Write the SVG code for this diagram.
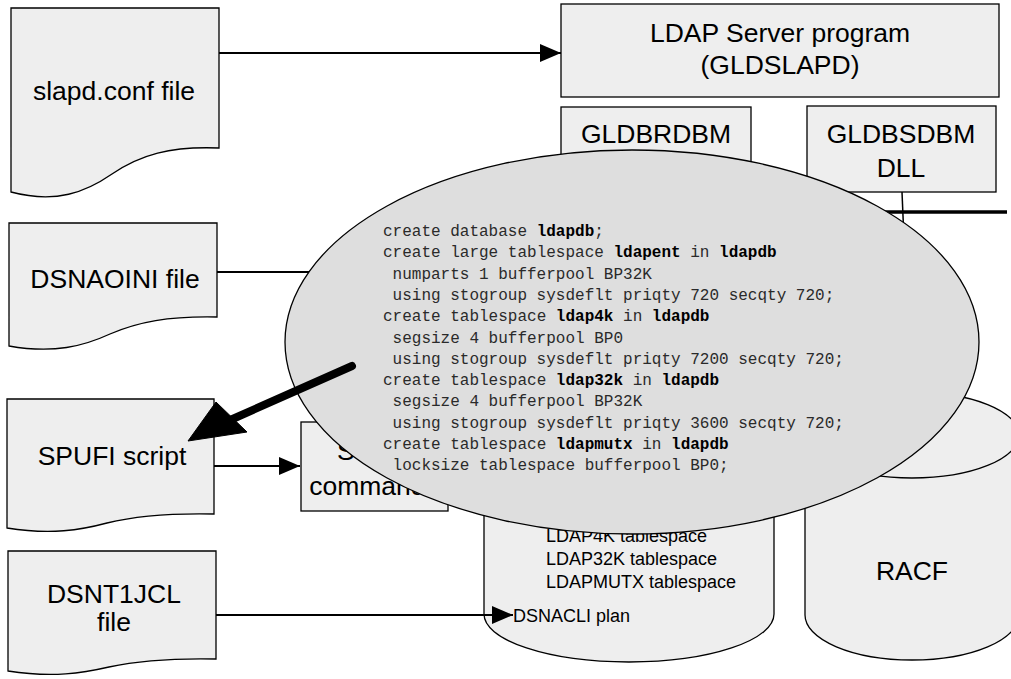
<svg xmlns="http://www.w3.org/2000/svg" width="1011" height="679" viewBox="0 0 1011 679">
  <style>
    .shape { fill: #eeeeee; stroke: #000; stroke-width: 1.3; }
    .label { font-family: "Liberation Sans", Arial, sans-serif; font-size: 26.5px; fill: #000; text-anchor: middle; }
    .small { font-family: "Liberation Sans", Arial, sans-serif; font-size: 18px; fill: #000; }
    .wire { fill: none; stroke: #000; stroke-width: 2; }
    .code { font-family: "Liberation Mono", "Courier New", monospace; font-size: 16px; fill: #2a2a2a; }
    .kw { font-weight: bold; fill: #000; }
  </style>
  <defs>
    <marker id="arrow" markerUnits="userSpaceOnUse" markerWidth="21" markerHeight="18" refX="21" refY="9" orient="auto">
      <path d="M0,0 L21,9 L0,18 Z" fill="#000"/>
    </marker>
  </defs>

  <rect width="1011" height="679" fill="#fff"/>

  <!-- input files -->
  <g id="slapd-conf">
    <path class="shape" d="M11,8 H219 V148 C170,146 140,155 112,174 C86,192 56,204 11,192 Z"/>
    <text class="label" x="114" y="100">slapd.conf file</text>
  </g>
  <g id="dsnaoini">
    <path class="shape" d="M9,223 H217 V317 C168,316 138,322 110,334 C84,346 54,354 9,346 Z"/>
    <text class="label" x="115" y="288">DSNAOINI file</text>
  </g>
  <g id="spufi">
    <path class="shape" d="M7,399 H214 V514 C165,513 135,516 107,523 C81,530 51,535 7,528 Z"/>
    <text class="label" x="112" y="465">SPUFI script</text>
  </g>
  <g id="dsnt1jcl">
    <path class="shape" d="M8,551 H216 V659 C167,658 137,661 109,667 C83,673 53,678 8,671 Z"/>
    <text class="label" x="114" y="603">DSNT1JCL</text>
    <text class="label" x="114" y="631">file</text>
  </g>

  <!-- server and its DLLs -->
  <g id="ldap-server">
    <rect class="shape" x="561" y="4" width="438" height="93"/>
    <text class="label" x="780" y="42">LDAP Server program</text>
    <text class="label" x="780" y="74">(GLDSLAPD)</text>
  </g>
  <g id="gldbrdbm">
    <rect class="shape" x="561" y="107" width="190" height="85"/>
    <text class="label" x="656" y="143">GLDBRDBM</text>
  </g>
  <g id="gldbsdbm">
    <rect class="shape" x="807" y="106" width="189" height="86"/>
    <text class="label" x="901" y="143">GLDBSDBM</text>
    <text class="label" x="901" y="177">DLL</text>
  </g>

  <!-- SQL commands box -->
  <g id="sql-commands">
    <rect class="shape" x="301" y="422" width="147" height="89"/>
    <text class="label" x="337" y="460" style="text-anchor:start">SQL</text>
    <text class="label" x="374" y="495">commands</text>
  </g>

  <!-- DB2 database cylinder -->
  <g id="db2">
    <path class="shape" d="M484,395 V614 A145,48 0 0 0 774,614 V395 A145,48 0 0 0 484,395 Z"/>
    <path class="shape" d="M484,395 A145,48 0 0 0 774,395"/>
    <text class="small" x="546" y="542">LDAP4K tablespace</text>
    <text class="small" x="546" y="565">LDAP32K tablespace</text>
    <text class="small" x="546" y="588">LDAPMUTX tablespace</text>
    <text class="small" x="513" y="622">DSNACLI plan</text>
  </g>

  <!-- RACF cylinder -->
  <g id="racf">
    <path class="shape" d="M805,435 V615 A107,45 0 0 0 1019,615 V435 A107,43 0 0 0 805,435 Z"/>
    <path class="shape" d="M805,435 A107,43 0 0 0 1019,435"/>
    <text class="label" x="912" y="580">RACF</text>
  </g>

  <!-- connectors -->
  <g id="connectors">
    <line class="wire" x1="219" y1="53" x2="561" y2="53" marker-end="url(#arrow)"/>
    <line class="wire" x1="217" y1="272" x2="340" y2="272"/>
    <line class="wire" x1="214" y1="466" x2="300" y2="466" marker-end="url(#arrow)"/>
    <line class="wire" x1="216" y1="615" x2="513" y2="615" marker-end="url(#arrow)"/>
    <line class="wire" x1="902" y1="192" x2="904" y2="240" style="stroke-width:1.5"/>
    <line class="wire" x1="860" y1="212" x2="1007" y2="212" style="stroke-width:3.5"/>
  </g>

  <!-- callout with the table space definitions -->
  <g id="ddl-callout">
    <ellipse cx="632" cy="342" rx="347" ry="192" fill="#dedede" stroke="#000" stroke-width="1.3"/>
    <text class="code">
      <tspan x="383" y="236">create database <tspan class="kw">ldapdb</tspan>;</tspan>
      <tspan x="383" y="257.3">create large tablespace <tspan class="kw">ldapent</tspan> in <tspan class="kw">ldapdb</tspan></tspan>
      <tspan x="392.6" y="278.6">numparts 1 bufferpool BP32K</tspan>
      <tspan x="392.6" y="299.9">using stogroup sysdeflt priqty 720 secqty 720;</tspan>
      <tspan x="383" y="321.2">create tablespace <tspan class="kw">ldap4k</tspan> in <tspan class="kw">ldapdb</tspan></tspan>
      <tspan x="392.6" y="342.5">segsize 4 bufferpool BP0</tspan>
      <tspan x="392.6" y="363.8">using stogroup sysdeflt priqty 7200 secqty 720;</tspan>
      <tspan x="383" y="385.1">create tablespace <tspan class="kw">ldap32k</tspan> in <tspan class="kw">ldapdb</tspan></tspan>
      <tspan x="392.6" y="406.4">segsize 4 bufferpool BP32K</tspan>
      <tspan x="392.6" y="427.7">using stogroup sysdeflt priqty 3600 secqty 720;</tspan>
      <tspan x="383" y="449">create tablespace <tspan class="kw">ldapmutx</tspan> in <tspan class="kw">ldapdb</tspan></tspan>
      <tspan x="392.6" y="470.3">locksize tablespace bufferpool BP0;</tspan>
    </text>
    <!-- pointer to the SPUFI script -->
    <line x1="352" y1="366" x2="228" y2="421" stroke="#000" stroke-width="8" stroke-linecap="round"/>
    <polygon points="188,441 216,402 247,432" fill="#000" stroke="#000" stroke-width="1" stroke-linejoin="round"/>
  </g>
</svg>
